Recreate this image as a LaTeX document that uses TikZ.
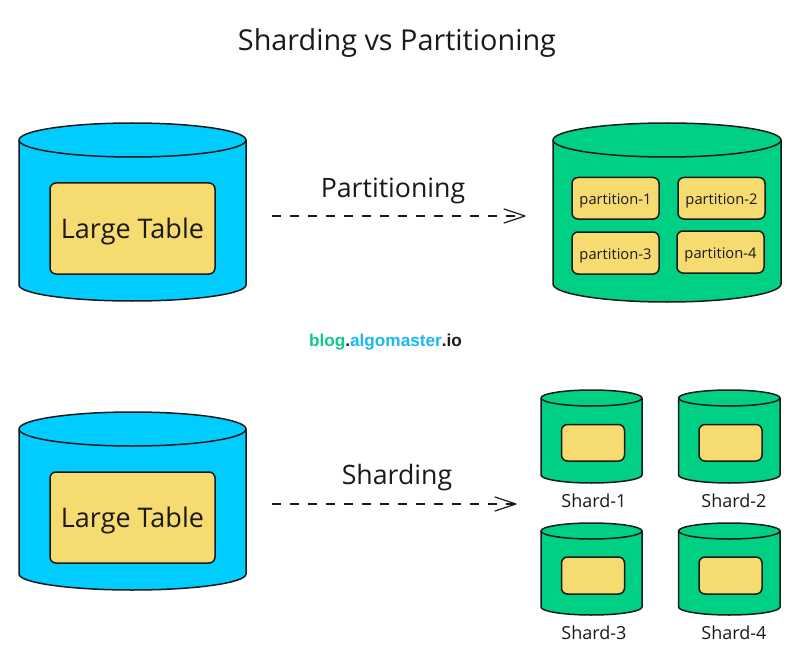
\documentclass[tikz,border=0pt]{standalone}
\usepackage{fontspec}
\setmainfont{Open Sans}
\newfontfamily\blogfont{Liberation Sans}
\usetikzlibrary{arrows.meta,calc}
\definecolor{cylblue}{HTML}{00CCFF}
\definecolor{cylgreen}{HTML}{00D084}
\definecolor{tablefill}{HTML}{F6DB70}
\definecolor{inkc}{HTML}{1A1A1A}
\definecolor{bloggreen}{HTML}{10C98A}
\definecolor{blogblue}{HTML}{1AB8F5}
\tikzset{
  cylline/.style={draw=inkc,line width=1.5pt},
  tablebox/.style={cylline,fill=tablefill,rounded corners=6pt},
  flowarrow/.style={draw=inkc,line width=1.2pt,dash pattern=on 9pt off 9pt,-},
  arrowbarb/.style={draw=inkc,line width=1.2pt,line cap=round,line join=round},
  labeltext/.style={text=inkc,inner sep=0pt,anchor=center},
}
% name, colour, x1, x2, ytop, ycentre, yside, ybottom
\newcommand{\dbcyl}[8]{%
  \pgfmathsetmacro{\xc}{(#3+#4)/2}
  \pgfmathsetmacro{\rx}{(#4-#3)/2}
  \pgfmathsetmacro{\ry}{#6-#5}
  \pgfmathsetmacro{\rb}{#8-#7}
  \path[cylline,fill=#2]
    (#3,#6) -- (#3,#7)
    .. controls (#3,#7+.55*\rb) and (\xc-.55*\rx,#8) .. (\xc,#8)
    .. controls (\xc+.55*\rx,#8) and (#4,#7+.55*\rb) .. (#4,#7)
    -- (#4,#6)
    .. controls (#4,#6-.55*\ry) and (\xc+.55*\rx,#5) .. (\xc,#5)
    .. controls (\xc-.55*\rx,#5) and (#3,#6-.55*\ry) .. (#3,#6) -- cycle;
  \path[cylline]
    (#3,#6) .. controls (#3,#6+.55*\ry) and (\xc-.55*\rx,#6+\ry) .. (\xc,#6+\ry)
    .. controls (\xc+.55*\rx,#6+\ry) and (#4,#6+.55*\ry) .. (#4,#6);
  \coordinate (#1) at (\xc,#6);
}
% name, x1, y1, x2, y2, text
\newcommand{\tbl}[6]{%
  \path[tablebox] (#2,#3) rectangle (#4,#5);
  \node[labeltext] (#1) at ({(#2+#4)/2},{(#3+#5)/2+2.5}) {#6};
}
\begin{document}
\begin{tikzpicture}[x=1pt,y=-1pt]
\useasboundingbox (0,0) rectangle (800,663);
\fill[white] (0,0) rectangle (800,663);

\node[labeltext,font=\fontsize{28.8}{32}\selectfont] (title) at (397,43.5) {Sharding vs Partitioning};

% top row
\dbcyl{cylA}{cylblue}{19}{246}{123}{140}{285}{301}
\tbl{tableA}{50}{183}{215}{274}{\fontsize{27}{30}\selectfont Large Table}
\dbcyl{cylB}{cylgreen}{553}{781}{123}{140}{284}{302}
\tbl{partA}{572}{177.5}{659}{219}{\fontsize{14.7}{16}\selectfont partition-1}
\tbl{partB}{678}{177.5}{765}{219}{\fontsize{14.7}{16}\selectfont partition-2}
\tbl{partC}{572}{232}{659}{274}{\fontsize{14.7}{16}\selectfont partition-3}
\tbl{partD}{677}{231}{764}{273}{\fontsize{14.7}{16}\selectfont partition-4}

\node[labeltext,font=\fontsize{26.7}{30}\selectfont] (lblP) at (393,190.5) {Partitioning};
\coordinate (arrAstart) at (272,216);
\coordinate (arrAend) at (525,216);
\draw[flowarrow] (arrAstart) -- (arrAend);
\draw[arrowbarb] ($(arrAend)+(-21,-7)$) -- (arrAend) -- ($(arrAend)+(-21,7)$);

\node[labeltext,font=\blogfont\bfseries\fontsize{17.2}{20}\selectfont] (blog) at (385.5,342.5)
  {\textcolor{bloggreen}{blog}.\textcolor{blogblue}{algomaster}.io};

% bottom row
\dbcyl{cylC}{cylblue}{19}{246}{412}{429}{574}{590}
\tbl{tableC}{50}{472}{215}{563}{\fontsize{27}{30}\selectfont Large Table}

\node[labeltext,font=\fontsize{26.7}{30}\selectfont] (lblS) at (397,478) {Sharding};
\coordinate (arrBstart) at (272,504);
\coordinate (arrBend) at (516,504);
\draw[flowarrow] (arrBstart) -- (arrBend);
\draw[arrowbarb] ($(arrBend)+(-21,-7)$) -- (arrBend) -- ($(arrBend)+(-21,7)$);

\dbcyl{shA}{cylgreen}{541}{642}{390}{398}{475}{483}
\tbl{shAt}{561.5}{424.5}{624.5}{461}{}
\node[labeltext,font=\fontsize{18}{20}\selectfont] (shAl) at (594,501) {Shard-1};
\dbcyl{shB}{cylgreen}{678.5}{780}{390}{398}{475}{483}
\tbl{shBt}{699}{424.5}{762}{461}{}
\node[labeltext,font=\fontsize{18}{20}\selectfont] (shBl) at (734,501) {Shard-2};
\dbcyl{shC}{cylgreen}{541}{642}{523}{531}{607}{615}
\tbl{shCt}{561.5}{557}{624.5}{594}{}
\node[labeltext,font=\fontsize{18}{20}\selectfont] (shCl) at (594,633) {Shard-3};
\dbcyl{shD}{cylgreen}{678.5}{780}{523}{531}{607}{615}
\tbl{shDt}{699}{557}{762}{594}{}
\node[labeltext,font=\fontsize{18}{20}\selectfont] (shDl) at (734,633) {Shard-4};
\end{tikzpicture}
\end{document}
